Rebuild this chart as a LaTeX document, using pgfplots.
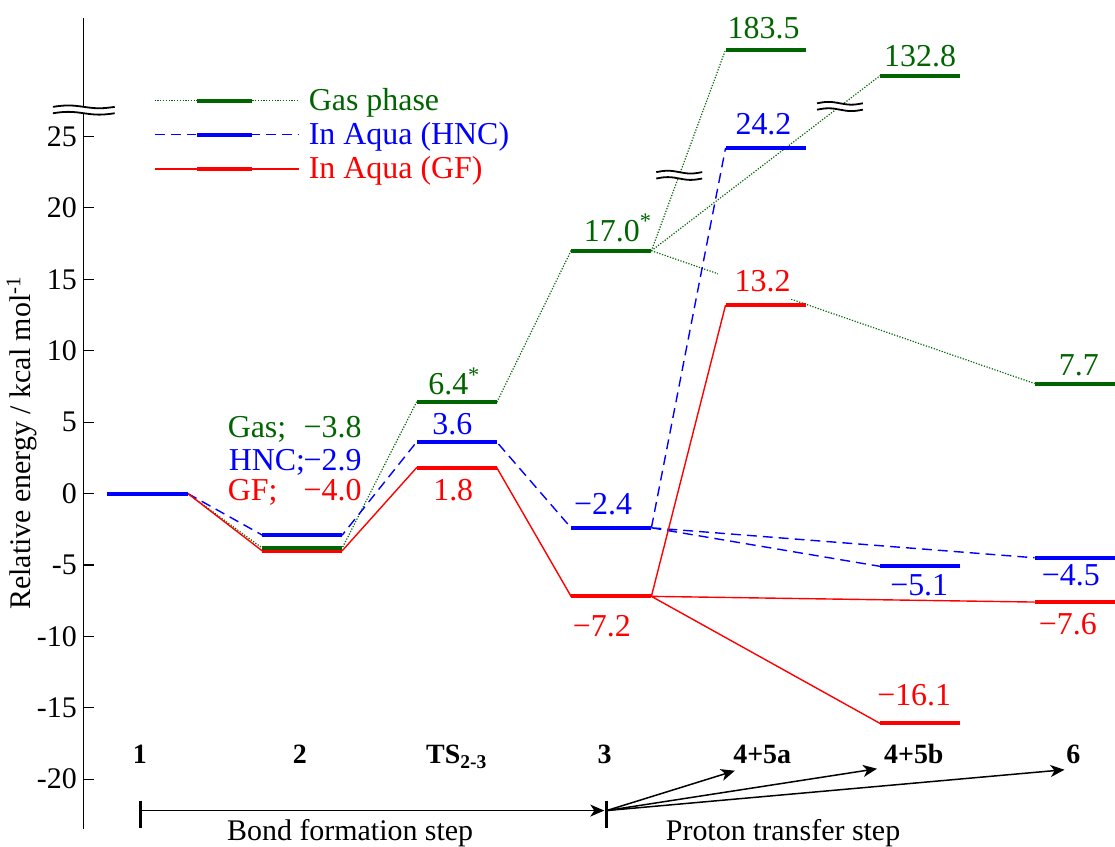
\documentclass[border=0pt]{standalone}
\usepackage{pgfplots}
\pgfplotsset{compat=1.18}
\usepackage{fontspec}
\setmainfont{Liberation Serif}
\usetikzlibrary{arrows.meta}
\definecolor{gasgreen}{RGB}{0,100,0}
\definecolor{hncblue}{RGB}{0,0,255}
\definecolor{gfred}{RGB}{255,0,0}
\newcommand\vfont{\fontsize{16}{19}\selectfont}
\newcommand\tfont{\fontsize{15}{18}\selectfont}
\newcommand\sfontb{\fontsize{14}{17}\selectfont\bfseries}

\begin{document}
\begin{tikzpicture}
\begin{axis}[
  scale only axis, width=517pt, height=406.7pt,
  xmin=-0.413, xmax=6.26, ymin=-23.5, ymax=33.3,
  axis x line=none, axis y line*=left,
  y axis line style={line width=0.6pt},
  ytick={-20,-15,...,25},
  yticklabels={-20,-15,-10,-5,0,5,10,15,20,25},
  tick align=inside, major tick length=5pt,
  ytick style={line width=0.6pt, black},
  yticklabel style={font=\tfont},
  ylabel={Relative energy / kcal mol\textsuperscript{-1}},
  every axis y label/.style={at={(axis description cs:-0.0513,0.476)}, rotate=90, anchor=base, font=\tfont},
  clip=false,
  unbounded coords=jump,
  legend cell align=left,
  legend style={at={(axis cs:0.038,28.49)}, anchor=north west, draw=none, fill=none,
    inner sep=0pt, font=\vfont, row sep=3.5pt, nodes={inner sep=0.5pt},
    /tikz/every odd column/.append style={column sep=4pt}},
  legend image code/.code={
    \draw (0pt,0pt) -- (72.5pt,0pt);
    \draw[solid, line width=2pt] (21.5pt,0pt) -- (49pt,0pt);
  },
  level/.style={only marks, mark=-, mark size=20.14pt, mark options={line width=2pt, solid}},
]

% connectors between the levels (branches from 3 separated by jumps)
\addplot[gasgreen, line width=0.6pt, dash pattern=on 0.6pt off 0.8pt] coordinates {
  (0.26,0) (0.74,-3.8) (1.26,-3.8) (1.74,6.4) (2.26,6.4) (2.74,17.0) (3.26,17.0) (3.74,31.08)
  (nan,nan) (3.26,17.0) (4.74,29.26)
  (nan,nan) (3.26,17.0) (5.74,7.7)};
\addlegendentry[text=gasgreen]{Gas phase}
\addplot[hncblue, line width=0.7pt, dash pattern=on 5pt off 3pt] coordinates {
  (0.26,0) (0.74,-2.9) (1.26,-2.9) (1.74,3.6) (2.26,3.6) (2.74,-2.4) (3.26,-2.4) (3.74,24.2)
  (nan,nan) (3.26,-2.4) (4.74,-5.1)
  (nan,nan) (3.26,-2.4) (5.74,-4.5)};
\addlegendentry[text=hncblue]{In Aqua (HNC)}
\addplot[gfred, line width=0.7pt] coordinates {
  (0.26,0) (0.74,-4.0) (1.26,-4.0) (1.74,1.8) (2.26,1.8) (2.74,-7.2) (3.26,-7.2) (3.74,13.2)
  (nan,nan) (3.26,-7.2) (4.74,-16.1)
  (nan,nan) (3.26,-7.2) (5.74,-7.6)};
\addlegendentry[text=gfred]{In Aqua (GF)}

% mask behind the 13.2 label
\node[fill=white, minimum width=44pt, minimum height=18.5pt, inner sep=0pt] at (axis cs:3.977,14.91) {};

% energy levels (gas-phase 4+5a and 4+5b sit above the axis break)
\addplot[level, gfred, forget plot] coordinates {(0,0) (1,-4.0) (2,1.8) (3,-7.2) (4,13.2) (5,-16.1) (6,-7.6)};
\addplot[level, gasgreen, forget plot] coordinates {(0,0) (1,-3.8) (2,6.4) (3,17.0) (4,31.08) (5,29.26) (6,7.7)};
\addplot[level, hncblue, forget plot] coordinates {(0,0) (1,-2.9) (2,3.6) (3,-2.4) (4,24.2) (5,-5.1) (6,-4.5)};

% value labels
\begin{scope}[every node/.style={inner sep=0pt, anchor=base west, font=\vfont}]
\node[text=gasgreen] at (axis cs:1.814,6.91) {6.4\textsuperscript{*}};
\node[text=gasgreen] at (axis cs:2.821,17.67) {17.0\textsuperscript{*}};
\node[text=gasgreen] at (axis cs:3.751,31.84) {183.5};
\node[text=gasgreen] at (axis cs:4.764,29.89) {132.8};
\node[text=gasgreen] at (axis cs:5.894,8.24) {7.7};
\node[text=gasgreen] at (axis cs:0.516,3.91) {Gas;};
\node[text=gasgreen] at (axis cs:1.007,3.91) {−3.8};
\node[text=hncblue] at (axis cs:1.84,4.12) {3.6};
\node[text=hncblue] at (axis cs:0.523,1.61) {HNC;};
\node[text=hncblue] at (axis cs:1.007,1.61) {−2.9};
\node[text=hncblue] at (axis cs:2.757,-1.47) {−2.4};
\node[text=hncblue] at (axis cs:3.802,25.14) {24.2};
\node[text=hncblue] at (axis cs:4.803,-7.12) {−5.1};
\node[text=hncblue] at (axis cs:5.784,-6.42) {−4.5};
\node[text=gfred] at (axis cs:1.846,-0.49) {1.8};
\node[text=gfred] at (axis cs:0.516,-0.49) {GF;};
\node[text=gfred] at (axis cs:1.007,-0.49) {−4.0};
\node[text=gfred] at (axis cs:2.750,-9.99) {−7.2};
\node[text=gfred] at (axis cs:3.796,14.18) {13.2};
\node[text=gfred] at (axis cs:4.719,-14.87) {−16.1};
\node[text=gfred] at (axis cs:5.765,-9.85) {−7.6};
\end{scope}

% species labels
\begin{scope}[every node/.style={inner sep=0pt, anchor=base, font=\sfontb}]
\node at (axis cs:-0.05,-18.92) {1};
\node at (axis cs:0.985,-18.92) {2};
\node at (axis cs:2.001,-18.92) {TS\textsubscript{2-3}};
\node at (axis cs:2.957,-18.92) {3};
\node at (axis cs:3.977,-18.92) {4+5a};
\node at (axis cs:4.958,-18.92) {4+5b};
\node at (axis cs:5.991,-18.92) {6};
\end{scope}

% reaction steps
\draw[line width=1.5pt] (axis cs:-0.045,-21.5) -- (axis cs:-0.045,-23.39);
\draw[line width=1.5pt] (axis cs:2.970,-21.5) -- (axis cs:2.970,-23.39);
\begin{scope}[line width=0.75pt, -{Stealth[length=7pt,width=6pt,inset=2pt]}]
\draw (axis cs:-0.045,-22.2) -- (axis cs:2.955,-22.2);
\draw (axis cs:2.970,-22.2) -- (axis cs:3.80,-19.41);
\draw (axis cs:2.970,-22.2) -- (axis cs:4.72,-19.27);
\draw (axis cs:2.970,-22.2) -- (axis cs:5.933,-19.34);
\end{scope}
\node[font=\tfont, anchor=base, inner sep=0pt] at (axis cs:1.311,-24.3) {Bond formation step};
\node[font=\tfont, anchor=base, inner sep=0pt] at (axis cs:4.112,-24.3) {Proton transfer step};

% places of the scale breaks, and the top of the axis
\coordinate (bkY) at (axis cs:-0.413,26.85);
\coordinate (bkA) at (axis cs:3.44,22.28);
\coordinate (bkB) at (axis cs:4.48,27.1);
\coordinate (topL) at (axis cs:-0.413,33.3);
\end{axis}

\foreach \c/\w in {bkY/15.5pt, bkA/11.5pt, bkB/11.5pt}{
  \begin{scope}[shift={(\c)}]
    \fill[white] (-\w,-1.7pt) rectangle (\w,1.7pt);
    \draw[line width=0.9pt] (-\w,1.6pt) sin (-\w/2,2.3pt) cos (0,1.6pt) sin (\w/2,0.9pt) cos (\w,1.6pt);
    \draw[line width=0.9pt] (-\w,-1.6pt) sin (-\w/2,-0.9pt) cos (0,-1.6pt) sin (\w/2,-2.3pt) cos (\w,-1.6pt);
  \end{scope}
}
% white margin above the axis
\path ([yshift=9pt]topL);
\end{tikzpicture}
\end{document}
